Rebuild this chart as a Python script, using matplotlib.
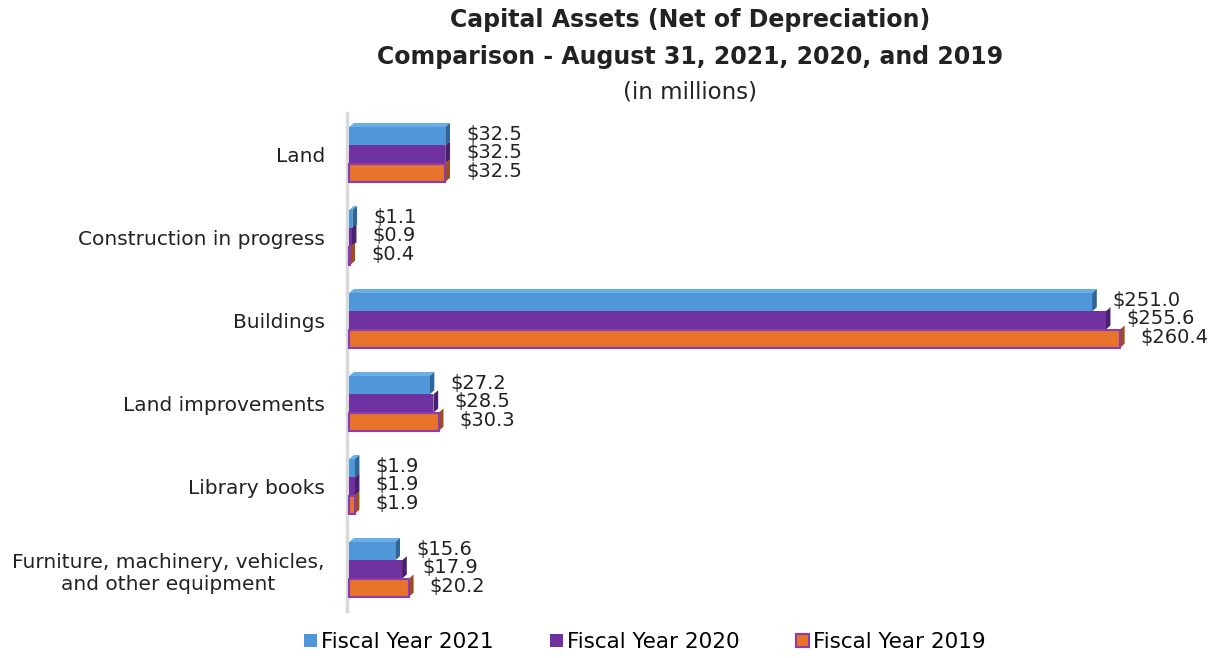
import matplotlib.pyplot as plt
import numpy as np
from matplotlib.patches import Patch, Polygon

plt.rcParams["font.family"] = ["DejaVu Sans"]

categories = ["Land", "Construction in progress", "Buildings", "Land improvements",
              "Library books", "Furniture, machinery, vehicles,\nand other equipment"]
fy2021 = [32.5, 1.1, 251.0, 27.2, 1.9, 15.6]
fy2020 = [32.5, 0.9, 255.6, 28.5, 1.9, 17.9]
fy2019 = [32.5, 0.4, 260.4, 30.3, 1.9, 20.2]
series_names = ["Fiscal Year 2021", "Fiscal Year 2020", "Fiscal Year 2019"]

face = ["#4f97d8", "#7031a0", "#e8732a"]
side = ["#2f6699", "#4a1f6e", "#a04d1c"]
top = ["#6aaee6", "#8a4cb8", "#f08c4a"]
edges = [None, None, "#8a3cb0"]

fig = plt.figure(figsize=(12.15, 6.58), dpi=100)
W, H = 1215, 658
ax = fig.add_axes([347 / W, 1 - 611 / H, (1180 - 347) / W, (611 - 113) / H])

y = np.arange(len(categories))
h = 0.22
depth = 1.6     # side face width in data units
dy = 0.05       # top face height in category units

for i, vals in enumerate([fy2021, fy2020, fy2019]):
    off = (i - 1) * h
    for j, v in enumerate(vals):
        yc = y[j] + off
        y0, y1 = yc - h / 2, yc + h / 2
        # top face only shows on the first series
        if i == 0:
            ax.add_patch(Polygon([(0, y0), (v, y0), (v + depth, y0 - dy), (depth, y0 - dy)],
                                 closed=True, facecolor=top[i], edgecolor="none", zorder=2))
        # side face
        ax.add_patch(Polygon([(v, y0), (v + depth, y0 - dy), (v + depth, y1 - dy), (v, y1)],
                             closed=True, facecolor=side[i], edgecolor="none", zorder=2 + i))
    if edges[i]:
        ax.barh(y + off, vals, height=h, color=face[i], edgecolor=edges[i], linewidth=1.5, zorder=3 + i)
    else:
        ax.barh(y + off, vals, height=h, color=face[i], zorder=3 + i)
    for j, v in enumerate(vals):
        ax.text(v + 7, y[j] + off - 0.02, f"${v:.1f}", ha="left", va="center",
                fontsize=14, color="#222222")

ax.set_xlim(-0.7, 280.7)
ax.set_ylim(5.5, -0.5)
ax.set_yticks(y)
ax.set_yticklabels(categories, fontsize=14.5, color="#222222")
for lbl in ax.get_yticklabels():
    lbl.set_multialignment("center")
ax.tick_params(axis="y", length=0, pad=16)
ax.set_xticks([])
for s in ["top", "right", "bottom"]:
    ax.spines[s].set_visible(False)
ax.spines["left"].set_color("#d9d9d9")
ax.spines["left"].set_linewidth(2.5)

fig.text(690 / W, 1 - 20 / H, "Capital Assets (Net of Depreciation)", ha="center", va="center",
         fontsize=17, fontweight="bold", color="#222222")
fig.text(690 / W, 1 - 57 / H, "Comparison - August 31, 2021, 2020, and 2019", ha="center",
         va="center", fontsize=17, fontweight="bold", color="#222222")
fig.text(690 / W, 1 - 92 / H, "(in millions)", ha="center", va="center", fontsize=16.5,
         color="#222222")

handles = [Patch(facecolor=face[0]), Patch(facecolor=face[1]),
           Patch(facecolor=face[2], edgecolor=edges[2], linewidth=1.5)]
fig.legend(handles, series_names, loc="center", bbox_to_anchor=(645 / W, 1 - 642 / H), ncol=3,
           frameon=False, fontsize=15.5, handlelength=0.6, handleheight=0.6, handletextpad=0.2,
           columnspacing=2.6)

fig.savefig("out.png", dpi=100)
